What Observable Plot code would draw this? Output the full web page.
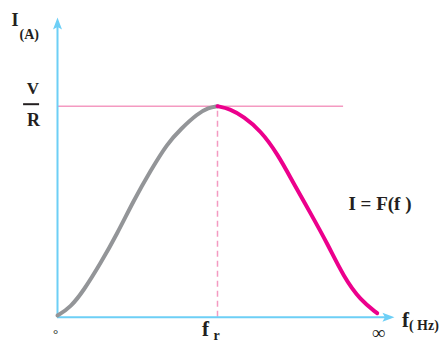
<!DOCTYPE html>
<html>
<head>
<meta charset="utf-8">
<script src="https://cdn.jsdelivr.net/npm/d3@7"></script>
<script src="https://cdn.jsdelivr.net/npm/@observablehq/plot@0.6"></script>
<style>
  html, body { margin: 0; padding: 0; background: #fff; }
  svg text { font-family: "Liberation Serif", "DejaVu Serif", serif !important; }
</style>
</head>
<body>
<div id="chart"></div>
<script>
// ---- data (abstract units: f from 0 to ∞, I relative to V/R) ----
const resonanceF = 5;          // f_r
const peakI = 1;               // V/R
const axisEndF = 10.53;        // x-axis arrow tip
const axisEndI = 1.42;         // y-axis arrow tip
const refLineEndF = 8.94;      // end of horizontal V/R line

const risingF = [0.0, 0.41, 0.82, 1.34, 1.87, 2.38, 2.91, 3.43, 3.86, 4.37, 4.72, 5.0];
const risingI = [0.008, 0.047, 0.127, 0.254, 0.397, 0.553, 0.695, 0.823, 0.893, 0.964, 0.993, 1.0];

const fallingF = [5.0, 5.38, 5.82, 6.34, 6.87, 7.38, 7.91, 8.43, 8.95, 9.47, 9.99];
const fallingI = [1.0, 0.988, 0.950, 0.885, 0.776, 0.634, 0.492, 0.350, 0.189, 0.080, 0.019];

const tickPositions = [0, 5, 10];
const tickLabels = ["°", "f", "∞"];

// ---- build tables ----
const rising = risingF.map((f, i) => ({f, I: risingI[i]}));
const falling = fallingF.map((f, i) => ({f, I: fallingI[i]}));

const axisBlue = "#6dcff6";
const pink = "#f49ac1";
const ink = "#231f20";
const serif = "Liberation Serif";

const arrowHead = {
  draw(context) {
    context.moveTo(0, 0);
    context.lineTo(4.5, 12);
    context.lineTo(0, 9.5);
    context.lineTo(-4.5, 12);
    context.closePath();
  }
};

const txt = (data, opts) => Plot.text(data, Object.assign({
  fill: ink, fontFamily: serif, fontWeight: "bold", lineAnchor: "bottom"
}, opts));

const chart = Plot.plot({
  width: 441,
  height: 342,
  margin: 0,
  style: {background: "#fff"},
  x: {domain: [0, 10], range: [57, 377], axis: null},
  y: {domain: [0, 1], range: [316.7, 105.7], axis: null},
  marks: [
    // reference lines
    Plot.ruleY([peakI], {x1: 0, x2: refLineEndF, stroke: pink, strokeWidth: 1.5}),
    Plot.ruleX([resonanceF], {y1: 0, y2: peakI, stroke: pink, strokeWidth: 1.5, strokeDasharray: "6,4"}),
    // axes
    Plot.ruleX([0], {y1: 0, y2: axisEndI - 0.02, stroke: axisBlue, strokeWidth: 2}),
    Plot.ruleY([0], {x1: 0, x2: axisEndF - 0.1, stroke: axisBlue, strokeWidth: 2}),
    Plot.dot([{f: 0, I: axisEndI}], {x: "f", y: "I", symbol: arrowHead, fill: axisBlue, stroke: null, rotate: 0}),
    Plot.dot([{f: axisEndF, I: 0}], {x: "f", y: "I", symbol: arrowHead, fill: axisBlue, stroke: null, rotate: 90}),
    // curves
    Plot.line(rising, {x: "f", y: "I", stroke: "#939598", strokeWidth: 4, curve: "basis", strokeLinecap: "round"}),
    Plot.line(falling, {x: "f", y: "I", stroke: "#ec008c", strokeWidth: 4, curve: "basis", strokeLinecap: "round"}),
    // tick labels
    txt([tickLabels[0]], {x: tickPositions[0], y: 0, dx: -2, dy: 21, text: d => d, fontSize: 13, fontWeight: "normal"}),
    txt([tickLabels[1]], {x: tickPositions[1], y: 0, dx: -12, dy: 19, text: d => d, fontSize: 21}),
    txt(["r"], {x: tickPositions[1], y: 0, dx: -4, dy: 23, text: d => d, fontSize: 14, textAnchor: "start"}),
    txt([tickLabels[2]], {x: tickPositions[2], y: 0, dx: 1, dy: 22, text: d => d, fontSize: 19, fontWeight: "normal"}),
    // axis titles
    txt(["I"], {x: 0, y: axisEndI, dx: -39, dy: 8.4, text: d => d, fontSize: 18, textAnchor: "end"}),
    txt(["(A)"], {x: 0, y: axisEndI, dx: -38, dy: 21.5, text: d => d, fontSize: 14, textAnchor: "start"}),
    txt(["f"], {x: axisEndF, y: 0, dx: 7.5, dy: 10, text: d => d, fontSize: 21, textAnchor: "start"}),
    txt(["( Hz)"], {x: axisEndF, y: 0, dx: 14.5, dy: 13, text: d => d, fontSize: 14, textAnchor: "start"}),
    // V / R
    txt(["V"], {x: 0, y: peakI, dx: -24.5, dy: -12.4, text: d => d, fontSize: 17}),
    Plot.ruleY([peakI], {x1: -1.06, x2: -0.56, dy: -2, stroke: ink, strokeWidth: 2}),
    txt(["R"], {x: 0, y: peakI, dx: -24, dy: 19.3, text: d => d, fontSize: 18}),
    // curve label
    txt(["I = F(f )"], {x: axisEndF, y: 0.506, dx: -46, text: d => d, fontSize: 19, textAnchor: "start"})
  ]
});

document.getElementById("chart").appendChild(chart);
</script>
</body>
</html>
